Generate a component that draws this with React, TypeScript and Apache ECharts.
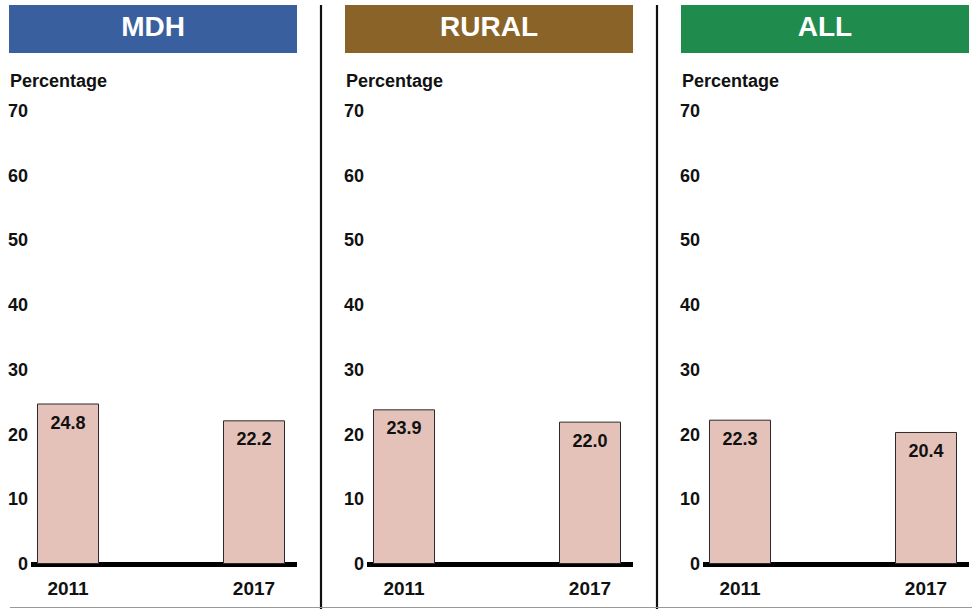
import React, { useEffect, useRef } from "react";
import * as echarts from "echarts";

const panels = ["MDH", "RURAL", "ALL"];
const headerColors = ["#3a5f9e", "#8a6328", "#1f8b4c"];
const years = ["2011", "2017"];
const mdhValues = [24.8, 22.2];
const ruralValues = [23.9, 22.0];
const allValues = [22.3, 20.4];
const yTicks = [0, 10, 20, 30, 40, 50, 60, 70];
const yAxisName = "Percentage";

const FONT = "'Liberation Sans', Arial, Helvetica, sans-serif";

export default function App() {
  const ref = useRef<HTMLDivElement>(null);
  useEffect(() => {
    document.body.style.margin = "0";
    if (!ref.current) return;
    const chart = echarts.init(ref.current, null, { renderer: "svg" });
    const seriesValues = [mdhValues, ruralValues, allValues];
    const yearNums = years.map((y) => Number(y));
    const offset = 336;
    const grids: any[] = [];
    const xAxes: any[] = [];
    const yAxes: any[] = [];
    const series: any[] = [];
    const graphics: any[] = [];
    panels.forEach((name, i) => {
      const left = 31 + offset * i;
      grids.push({ left, width: 266, top: 111, height: 453 });
      xAxes.push({
        type: "value",
        gridIndex: i,
        min: yearNums[0] - 1.194,
        max: yearNums[1] + 1.387,
        axisLine: { show: true, onZero: false, lineStyle: { color: "#000", width: 5, cap: "butt" } },
        axisTick: { show: false },
        splitLine: { show: false },
        axisLabel: {
          customValues: yearNums,
          formatter: (v: number) => String(v),
          color: "#111",
          fontWeight: "bold",
          fontSize: 19,
          fontFamily: FONT,
          margin: 15,
        },
      });
      yAxes.push({
        type: "value",
        gridIndex: i,
        min: yTicks[0],
        max: yTicks[yTicks.length - 1],
        interval: 10,
        axisLine: { show: false },
        axisTick: { show: false },
        splitLine: { show: false },
        axisLabel: {
          color: "#111",
          fontWeight: "bold",
          fontSize: 18,
          fontFamily: FONT,
          margin: 3,
        },
      });
      series.push({
        type: "bar",
        xAxisIndex: i,
        yAxisIndex: i,
        barWidth: 62,
        data: seriesValues[i].map((v, k) => [yearNums[k], v]),
        itemStyle: { color: "#e4c2b9", borderColor: "#2a2a2a", borderWidth: 1 },
        label: {
          show: true,
          position: "insideTop",
          distance: 10,
          formatter: (p: any) => Number(p.value[1]).toFixed(1),
          color: "#111",
          fontWeight: "bold",
          fontSize: 18,
          fontFamily: FONT,
        },
        z: 1,
      });
      const hx = 9 + offset * i;
      graphics.push({
        type: "rect",
        shape: { x: hx, y: 5, width: 288, height: 48 },
        style: { fill: headerColors[i] },
      });
      graphics.push({
        type: "text",
        x: hx + 144,
        y: 26,
        style: {
          text: name,
          fill: "#fff",
          fontSize: 28,
          fontWeight: "bold",
          fontFamily: FONT,
          align: "center",
          verticalAlign: "middle",
        },
      });
      graphics.push({
        type: "text",
        x: 10 + offset * i,
        y: 81,
        style: {
          text: yAxisName,
          fill: "#111",
          fontSize: 18,
          fontWeight: "bold",
          fontFamily: FONT,
          align: "left",
          verticalAlign: "middle",
        },
      });
    });
    [321, 657].forEach((x) => {
      graphics.push({
        type: "line",
        shape: { x1: x, y1: 5, x2: x, y2: 609 },
        style: { stroke: "#111", lineWidth: 2.2 },
      });
    });
    graphics.push({
      type: "line",
      shape: { x1: 10, y1: 607.5, x2: 972, y2: 607.5 },
      style: { stroke: "#999", lineWidth: 1 },
    });
    chart.setOption({
      animation: false,
      backgroundColor: "#fff",
      grid: grids,
      xAxis: xAxes,
      yAxis: yAxes,
      series,
      graphic: graphics,
    });
    return () => chart.dispose();
  }, []);
  return <div ref={ref} style={{ width: 972, height: 609 }} />;
}
